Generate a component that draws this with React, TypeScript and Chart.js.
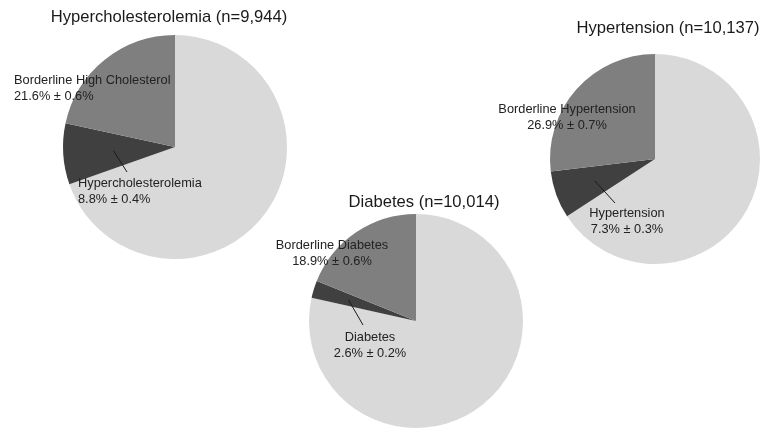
import React, { useEffect, useRef } from "react";
import { Chart, registerables } from "chart.js";

Chart.register(...registerables);

const W = 760;
const H = 433;

// Survey prevalence, one pie per condition (percent of respondents)
const chartTitles = [
  "Hypercholesterolemia (n=9,944)",
  "Diabetes (n=10,014)",
  "Hypertension (n=10,137)",
];
const conditionNames = ["Hypercholesterolemia", "Diabetes", "Hypertension"];
const borderlineNames = [
  "Borderline High Cholesterol",
  "Borderline Diabetes",
  "Borderline Hypertension",
];
const normalPct = [69.6, 78.5, 65.8];
const conditionPct = [8.8, 2.6, 7.3];
const conditionErr = [0.4, 0.2, 0.3];
const borderlinePct = [21.6, 18.9, 26.9];
const borderlineErr = [0.6, 0.6, 0.7];

const sliceColors = ["#d9d9d9", "#404040", "#7f7f7f"];
const FONT = '"Liberation Sans", Arial, Helvetica, sans-serif';

type Layout = {
  cx: number;
  cy: number;
  r: number;
  title: { x: number; y: number };
  border: { x: number; y: number; align: CanvasTextAlign };
  cond: { x: number; y: number; align: CanvasTextAlign };
  leaderEnd: { x: number; y: number };
  leaderFrac: number;
};

const layouts: Layout[] = [
  {
    cx: 175, cy: 147, r: 112,
    title: { x: 169, y: 17 },
    border: { x: 14, y: 80, align: "left" },
    cond: { x: 78, y: 183, align: "left" },
    leaderEnd: { x: 127, y: 172 },
    leaderFrac: 0.55,
  },
  {
    cx: 416, cy: 321, r: 107,
    title: { x: 424, y: 202 },
    border: { x: 332, y: 245, align: "center" },
    cond: { x: 370, y: 337, align: "center" },
    leaderEnd: { x: 363, y: 325 },
    leaderFrac: 0.66,
  },
  {
    cx: 656, cy: 159, r: 106,
    title: { x: 668, y: 28 },
    border: { x: 567, y: 109, align: "center" },
    cond: { x: 627, y: 213, align: "center" },
    leaderEnd: { x: 615, y: 203 },
    leaderFrac: 0.61,
  },
];

const pctText = (v: number, e: number) => `${v.toFixed(1)}% \u00b1 ${e.toFixed(1)}%`;

function makeAnnotations(i: number, lay: Layout) {
  return {
    id: "pieAnnotations" + i,
    afterDraw(chart: Chart) {
      const ctx = chart.ctx;
      ctx.save();
      // title
      ctx.fillStyle = "#1a1a1a";
      ctx.font = `16.6px ${FONT}`;
      ctx.textAlign = "center";
      ctx.textBaseline = "middle";
      ctx.fillText(chartTitles[i], lay.title.x, lay.title.y);

      // leader line from the condition slice to its label
      const arc: any = chart.getDatasetMeta(0).data[1];
      const mid = (arc.startAngle + arc.endAngle) / 2;
      const rr = arc.outerRadius * lay.leaderFrac;
      ctx.strokeStyle = "#1a1a1a";
      ctx.lineWidth = 1;
      ctx.beginPath();
      ctx.moveTo(arc.x + Math.cos(mid) * rr, arc.y + Math.sin(mid) * rr);
      ctx.lineTo(lay.leaderEnd.x, lay.leaderEnd.y);
      ctx.stroke();

      // slice labels
      ctx.font = `12.8px ${FONT}`;
      ctx.fillStyle = "#222222";
      const lh = 16.5;
      ctx.textAlign = lay.border.align;
      ctx.fillText(borderlineNames[i], lay.border.x, lay.border.y);
      ctx.fillText(pctText(borderlinePct[i], borderlineErr[i]), lay.border.x, lay.border.y + lh);
      ctx.textAlign = lay.cond.align;
      ctx.fillText(conditionNames[i], lay.cond.x, lay.cond.y);
      ctx.fillText(pctText(conditionPct[i], conditionErr[i]), lay.cond.x, lay.cond.y + lh);
      ctx.restore();
    },
  };
}

export default function App() {
  const refs = [useRef<HTMLCanvasElement>(null), useRef<HTMLCanvasElement>(null), useRef<HTMLCanvasElement>(null)];

  useEffect(() => {
    const charts = layouts.map((lay, i) => {
      const canvas = refs[i].current!;
      return new Chart(canvas, {
        type: "pie",
        data: {
          labels: ["None", conditionNames[i], borderlineNames[i]],
          datasets: [
            {
              data: [normalPct[i], conditionPct[i], borderlinePct[i]],
              backgroundColor: sliceColors,
              borderWidth: 0,
              hoverOffset: 0,
            },
          ],
        },
        options: {
          responsive: false,
          animation: false,
          events: [],
          layout: {
            padding: {
              left: lay.cx - lay.r,
              top: lay.cy - lay.r,
              right: W - lay.cx - lay.r,
              bottom: H - lay.cy - lay.r,
            },
          },
          plugins: {
            legend: { display: false },
            tooltip: { enabled: false },
            title: { display: false },
          },
        },
        plugins: [makeAnnotations(i, lay)],
      });
    });
    return () => charts.forEach((c) => c.destroy());
  }, []);

  return (
    <div
      style={{
        position: "fixed",
        left: 0,
        top: 0,
        width: W,
        height: H,
        background: "#ffffff",
        overflow: "hidden",
      }}
    >
      {refs.map((r, i) => (
        <canvas
          key={i}
          ref={r}
          width={W}
          height={H}
          style={{ position: "absolute", left: 0, top: 0, width: W, height: H }}
        />
      ))}
    </div>
  );
}
